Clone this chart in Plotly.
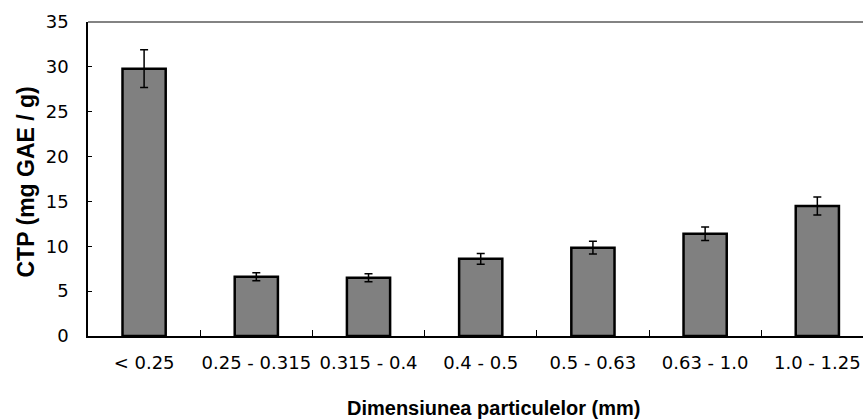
import plotly.graph_objects as go

categories = ["< 0.25", "0.25 - 0.315", "0.315 - 0.4", "0.4 - 0.5", "0.5 - 0.63", "0.63 - 1.0", "1.0 - 1.25"]
values = [29.8, 6.6, 6.5, 8.6, 9.85, 11.4, 14.5]
errors = [2.1, 0.45, 0.45, 0.6, 0.7, 0.75, 1.0]
y_ticks = [0, 5, 10, 15, 20, 25, 30, 35]

x_title = "Dimensiunea particulelor (mm)"
y_title = "CTP (mg GAE / g)"

fig = go.Figure()
fig.add_trace(go.Bar(
    x=categories,
    y=values,
    width=0.385,
    marker=dict(color="#808080", line=dict(color="#000000", width=2.5)),
    error_y=dict(type="data", array=errors, visible=True, color="#000000", thickness=1.5, width=4),
))

fig.update_layout(
    width=863, height=419,
    margin=dict(l=88, r=0, t=22, b=83),
    plot_bgcolor="white", paper_bgcolor="white",
    showlegend=False,
    xaxis=dict(
        type="category",
        range=[-0.5, 6.407],
        automargin=False,
        tickangle=0,
        showgrid=False, zeroline=False,
        showline=True, linecolor="#000000", linewidth=1.5,
        ticks="inside", ticklen=6, tickcolor="#000000", tickwidth=1,
        tickson="boundaries",
        tickfont=dict(family="DejaVu Sans", size=18, color="#000000"),
        ticklabelstandoff=10,
    ),
    yaxis=dict(
        range=[0, 35],
        tickvals=y_ticks,
        automargin=False,
        showgrid=False, zeroline=False,
        showline=True, linecolor="#000000", linewidth=1.5,
        ticks="inside", ticklen=4, tickcolor="#000000", tickwidth=1,
        tickfont=dict(family="DejaVu Sans", size=18, color="#000000"),
        ticklabelstandoff=14,
    ),
    shapes=[dict(type="line", xref="paper", yref="paper", x0=0, x1=1, y0=1, y1=1,
                 line=dict(color="#5a5a5a", width=1.5))],
    annotations=[
        dict(text="<b>" + x_title + "</b>", xref="paper", yref="paper",
             x=(493 - 88) / 775, y=-(408 - 336) / 314, xanchor="center", yanchor="middle",
             showarrow=False, font=dict(family="Liberation Sans", size=20, color="#000000")),
        dict(text="<b>" + y_title + "</b>", xref="paper", yref="paper",
             x=-(88 - 26) / 775, y=(336 - 182.5) / 314, xanchor="center", yanchor="middle",
             textangle=-90, showarrow=False,
             font=dict(family="Liberation Sans", size=23, color="#000000")),
    ],
)

fig.write_html("out.html")
